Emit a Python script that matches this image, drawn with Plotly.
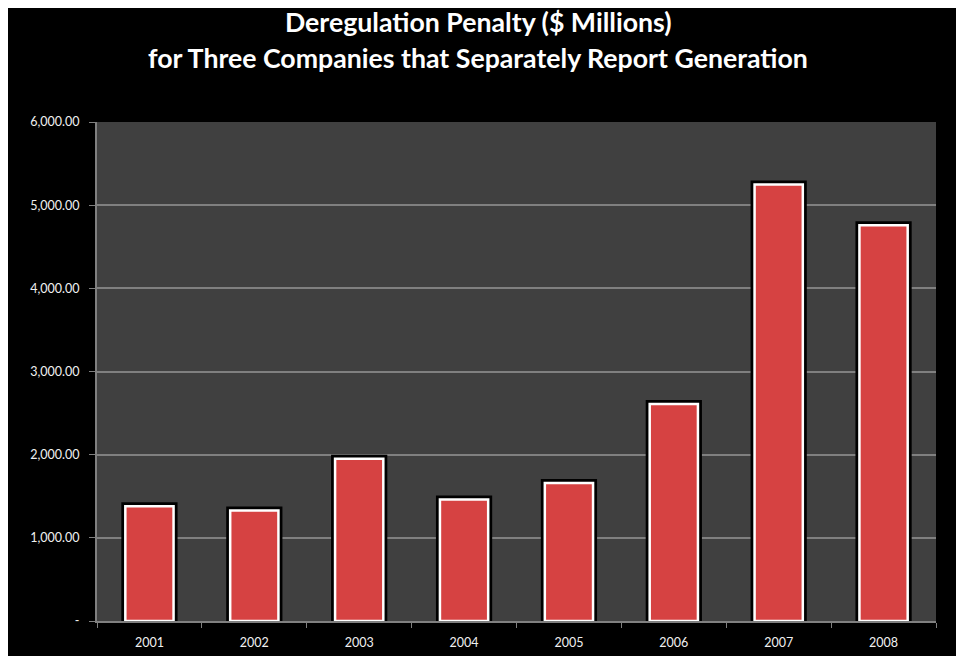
import plotly.graph_objects as go

years = ["2001", "2002", "2003", "2004", "2005", "2006", "2007", "2008"]
penalty = [1380, 1330, 1950, 1460, 1660, 2610, 5250, 4760]
y_tickvals = [0, 1000, 2000, 3000, 4000, 5000, 6000]
y_ticktext = ["-", "1,000.00", "2,000.00", "3,000.00", "4,000.00", "5,000.00", "6,000.00"]
title_lines = ["Deregulation Penalty ($ Millions)",
               "for Three Companies that Separately Report Generation"]

W, H = 956, 656
ML, MR, MT, MB = 97, 20, 122, 35
PW, PH = W - ML - MR, H - MT - MB

fig = go.Figure()
# black glow / shadow behind bars
fig.add_trace(go.Bar(x=years, y=penalty, width=0.46,
                     marker=dict(color="#000000", line=dict(color="#000000", width=8)),
                     hoverinfo="skip", showlegend=False))
# red bars with white outline
fig.add_trace(go.Bar(x=years, y=penalty, width=0.46,
                     marker=dict(color="#d64242", line=dict(color="#ffffff", width=2.5)),
                     showlegend=False))

# white strips at the top and left edges of the picture
fig.add_shape(type="rect", xref="paper", yref="paper",
              x0=-ML / PW, x1=(W - ML) / PW, y0=(PH + MT - 8) / PH, y1=(PH + MT) / PH,
              fillcolor="#ffffff", line_width=0, layer="above")
fig.add_shape(type="rect", xref="paper", yref="paper",
              x0=-ML / PW, x1=(8 - ML) / PW, y0=-MB / PH, y1=(PH + MT) / PH,
              fillcolor="#ffffff", line_width=0, layer="above")

fig.add_annotation(text="<b>" + title_lines[0] + "</b>", xref="paper", yref="paper",
                   x=(478 - ML) / PW, y=(H - 22 - MB) / PH, showarrow=False,
                   font=dict(family="Lato", size=26.7, color="#ffffff"),
                   xanchor="center", yanchor="middle")
fig.add_annotation(text="<b>" + title_lines[1] + "</b>", xref="paper", yref="paper",
                   x=(478 - ML) / PW, y=(H - 58 - MB) / PH, showarrow=False,
                   font=dict(family="Lato", size=26.7, color="#ffffff"),
                   xanchor="center", yanchor="middle")

fig.update_layout(
    width=W, height=H,
    margin=dict(l=ML, r=MR, t=MT, b=MB, autoexpand=False),
    paper_bgcolor="#000000",
    plot_bgcolor="#404040",
    barmode="overlay",
    font=dict(family="Lato", size=12, color="#f0f0f0"),
)
fig.update_xaxes(type="category", showgrid=False, showline=True, linecolor="#808080", linewidth=2,
                 ticks="outside", tickson="boundaries", ticklen=5, tickcolor="#808080", tickwidth=1,
                 ticklabelstandoff=9, automargin=False,
                 tickfont=dict(size=12.5, color="#f0f0f0"))
fig.update_yaxes(range=[0, 6000], tickvals=y_tickvals, ticktext=y_ticktext,
                 showgrid=True, gridcolor="#808080", gridwidth=2,
                 showline=True, linecolor="#808080", linewidth=2, zeroline=False,
                 ticks="outside", ticklen=6, tickcolor="#808080", tickwidth=1,
                 ticklabelstandoff=7, automargin=False,
                 tickfont=dict(size=12.5, color="#f0f0f0"))

fig.write_html("out.html")
